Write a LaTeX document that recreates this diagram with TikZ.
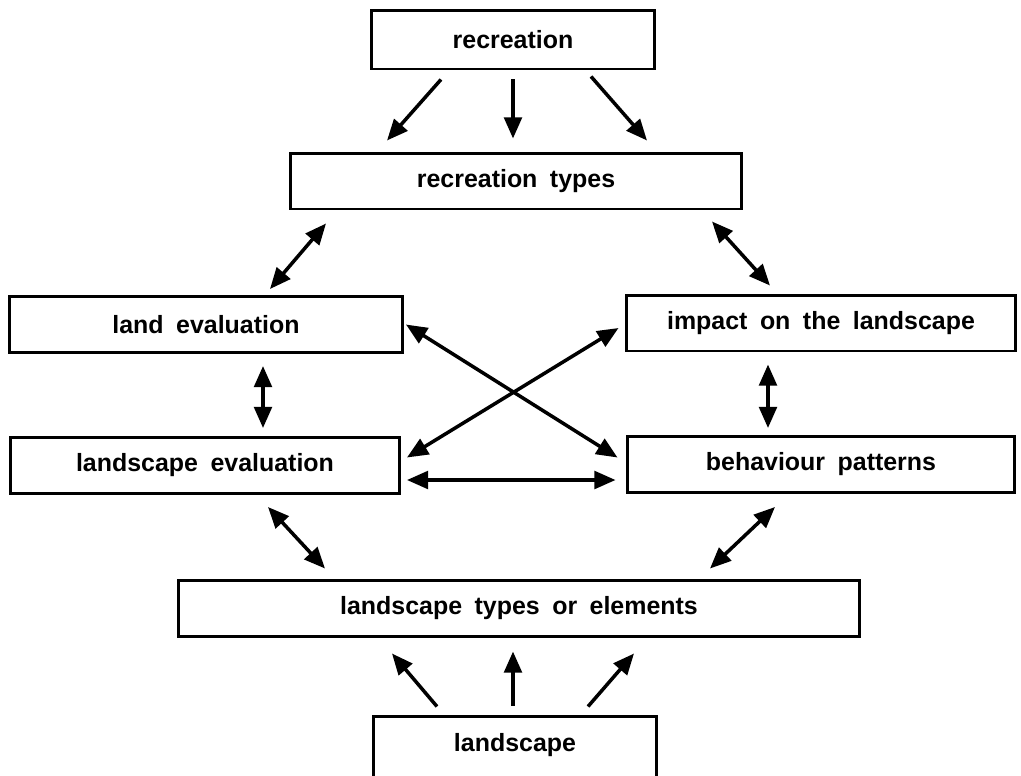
\documentclass[tikz,border=0pt]{standalone}
\usepackage{fontspec}
\setmainfont{Liberation Sans}[WordSpace=1.8]
\usepackage{tikz}
\usetikzlibrary{arrows.meta,positioning,calc}
\tikzstyle{box} = [rectangle, draw=black, line width=1.7pt, inner sep=0pt, minimum height=1.12cm, font=\bfseries\fontsize{14.2}{17}\selectfont]
\tikzstyle{arrow} = [line width=2pt, -{Triangle[length=12pt,width=10pt]}]
\tikzstyle{darrow} = [line width=2pt, {Triangle[length=12pt,width=10pt]}-{Triangle[length=12pt,width=10pt]}]

\begin{document}
\begin{tikzpicture}[x=0.02cm, y=-0.02cm]
    \useasboundingbox (0,0) rectangle (1021,775);

    % boxes
    \node[box, minimum width=5.68cm, minimum height=1.18cm] (recreation) at (513,39.5) {recreation};
    \node[box, minimum width=9.04cm] (rectypes) at (516,181) {recreation types};
    \node[box, minimum width=7.86cm] (landeval) at (206,324.5) {land evaluation};
    \node[box, minimum width=7.8cm] (impact) at (821,323) {impact on the landscape};
    \node[box, minimum width=7.78cm] (landscapeeval) at (205,465.5) {landscape evaluation};
    \node[box, minimum width=7.76cm] (behaviour) at (821,464.5) {behaviour patterns};
    \node[box, minimum width=13.64cm] (landtypes) at (519,608) {landscape types or elements};
    \node[box, draw=none, minimum width=5.6cm, minimum height=1.08cm] (landscape) at (515,745) {landscape};
    \draw[line width=1.7pt] ($(landscape.south west)+(0,8)$) -- (landscape.north west) -- (landscape.north east) -- ($(landscape.south east)+(0,8)$);

    % recreation -> recreation types
    \draw[arrow] ($(recreation.south)+(-72,9)$) -- ($(rectypes.north)+(-129,-11)$);
    \draw[arrow] ($(recreation.south)+(0,9)$) -- ($(rectypes.north)+(-3,-13)$);
    \draw[arrow] ($(recreation.south)+(78,6)$) -- ($(rectypes.north)+(131,-11)$);

    % second row
    \draw[darrow] ($(rectypes.south)+(-190,13)$) -- ($(landeval.north)+(64,-6)$);
    \draw[darrow] ($(rectypes.south)+(196,11)$) -- ($(impact.north)+(-51,-8)$);
    \draw[darrow] ($(landeval.south)+(57,12)$) -- ($(landscapeeval.north)+(58,-8)$);
    \draw[darrow] ($(impact.south)+(-53,12)$) -- ($(behaviour.north)+(-53,-7)$);

    % crossing
    \draw[darrow] ($(landeval.east)+(2,0)$) -- ($(behaviour.west)+(-8,-7)$);
    \draw[darrow] ($(impact.west)+(-6,5)$) -- ($(landscapeeval.east)+(6,-8)$);
    \draw[darrow] ($(landscapeeval.east)+(6,14.5)$) -- ($(behaviour.west)+(-10,15.5)$);

    % to landscape types
    \draw[darrow] ($(landscapeeval.south)+(63,12)$) -- ($(landtypes.north)+(-194,-10)$);
    \draw[darrow] ($(behaviour.south)+(-46,13)$) -- ($(landtypes.north)+(191,-10)$);

    % landscape -> landscape types
    \draw[arrow] ($(landscape.north)+(-78,-10)$) -- ($(landtypes.south)+(-127,16)$);
    \draw[arrow] ($(landscape.north)+(-2,-11)$) -- ($(landtypes.south)+(-6,14)$);
    \draw[arrow] ($(landscape.north)+(73,-10)$) -- ($(landtypes.south)+(115,16)$);
\end{tikzpicture}
\end{document}
